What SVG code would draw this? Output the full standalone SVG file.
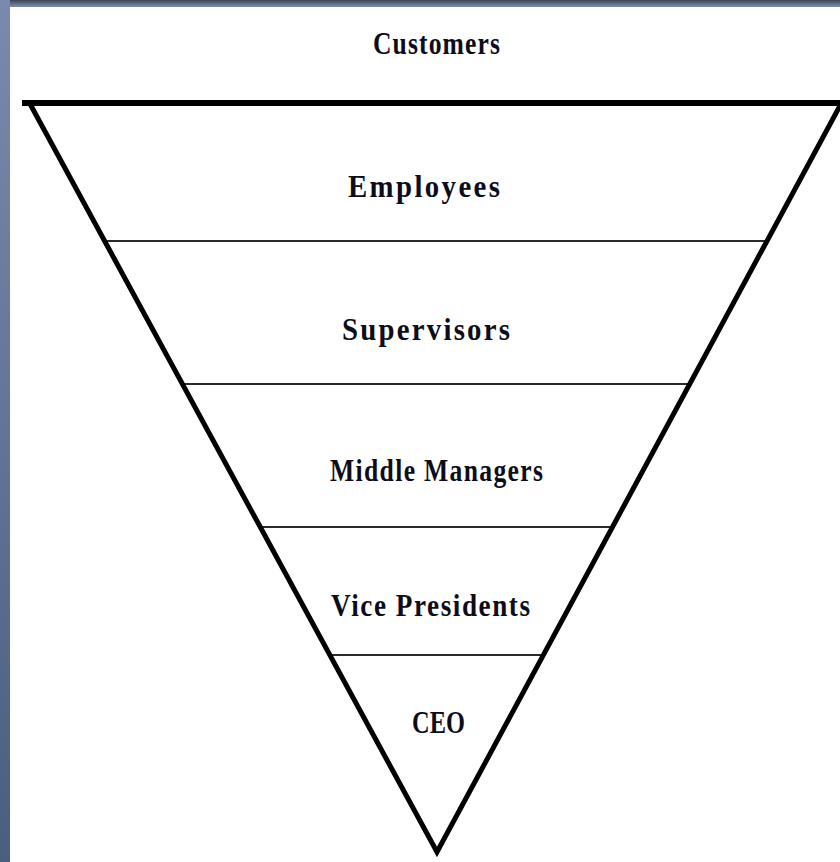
<svg xmlns="http://www.w3.org/2000/svg" width="840" height="862" viewBox="0 0 840 862">
  <defs>
    <linearGradient id="sideGrad" x1="0" y1="0" x2="0" y2="1">
      <stop offset="0" stop-color="#7a8aae"/>
      <stop offset="1" stop-color="#4a5e80"/>
    </linearGradient>
    <linearGradient id="topGrad" x1="0" y1="0" x2="0" y2="1">
      <stop offset="0" stop-color="#3e4554"/>
      <stop offset="1" stop-color="#8090b0"/>
    </linearGradient>
  </defs>
  <style>
    .lbl { font-family: "Liberation Serif", "Times New Roman", serif; font-weight: bold; font-size: 32px; fill: #0d0d1a; text-anchor: middle; }
    .edge { fill: none; stroke: #000; stroke-width: 5; stroke-linejoin: miter; }
    .bar { stroke: #000; stroke-width: 6; }
    .div { stroke: #2a2a2a; stroke-width: 2; }
  </style>
  <rect x="0" y="0" width="840" height="862" fill="#ffffff"/>
  <rect x="0" y="0" width="10" height="862" fill="url(#sideGrad)"/>
  <rect x="10" y="0" width="830" height="7" fill="url(#topGrad)"/>

  <g id="connectors">
    <line class="div" x1="105" y1="241" x2="767" y2="241"/>
    <line class="div" x1="183" y1="384" x2="690" y2="384"/>
    <line class="div" x1="260" y1="527" x2="613" y2="527"/>
    <line class="div" x1="329" y1="655" x2="544" y2="655"/>
  </g>
  <g id="pyramid">
    <polyline class="edge" points="29,102 437,852 842,102"/>
    <line class="bar" x1="22" y1="103" x2="840" y2="103"/>
  </g>

  <g id="customers" transform="scale(0.8,1)"><text class="lbl" x="545.6" y="54" textLength="158.75" lengthAdjust="spacing">Customers</text></g>
  <g id="employees" transform="scale(0.9,1)"><text class="lbl" x="471.1" y="197" textLength="168.9" lengthAdjust="spacing">Employees</text></g>
  <g id="supervisors" transform="scale(0.9,1)"><text class="lbl" x="473.3" y="340" textLength="186.7" lengthAdjust="spacing">Supervisors</text></g>
  <g id="middle-managers" transform="scale(0.8,1)"><text class="lbl" x="545.6" y="481" textLength="266" lengthAdjust="spacing">Middle Managers</text></g>
  <g id="vice-presidents" transform="scale(0.85,1)"><text class="lbl" x="506.5" y="616" textLength="234" lengthAdjust="spacing">Vice Presidents</text></g>
  <g id="ceo" transform="scale(0.8,1)"><text class="lbl" x="548.1" y="733" textLength="66" lengthAdjust="spacingAndGlyphs">CEO</text></g>
</svg>
